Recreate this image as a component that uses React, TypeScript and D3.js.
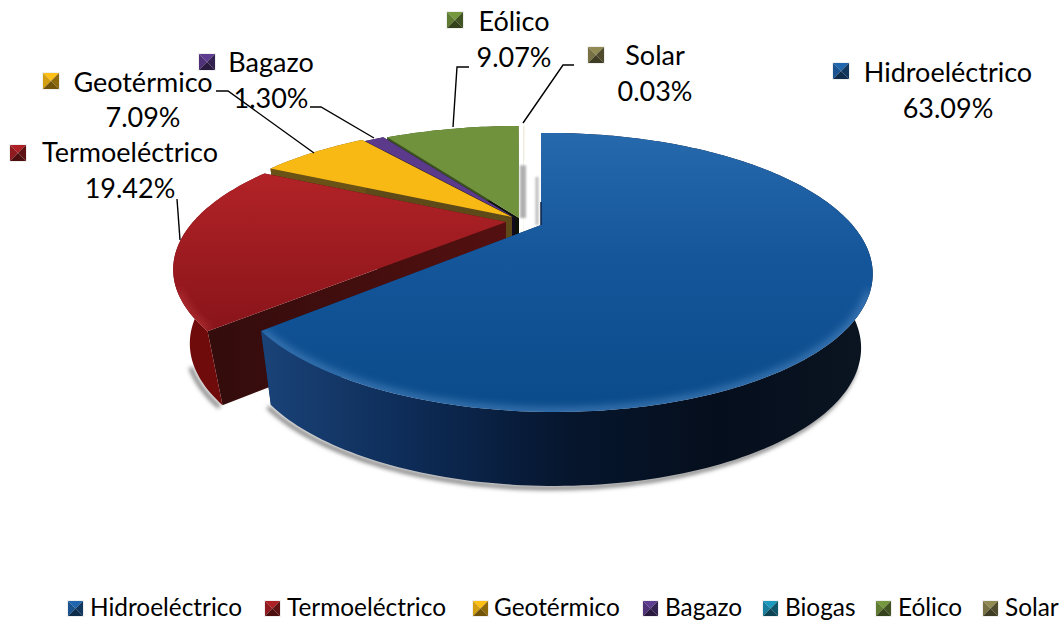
import React, { useMemo } from "react";
import * as d3 from "d3";

const categories = ["Hidroeléctrico", "Termoeléctrico", "Geotérmico", "Bagazo", "Biogas", "Eólico", "Solar"];
const shares = [63.09, 19.42, 7.09, 1.3, 0.0, 9.07, 0.03];
const shareLabels = ["63.09%", "19.42%", "7.09%", "1.30%", "", "9.07%", "0.03%"];
const colours = ["#1f62a8", "#a81f24", "#f9b914", "#5b3a8c", "#1b94b8", "#71923c", "#8d8550"];

// Layout of the chart (styling, not data)
const apexX = [541, 506, 512, 515, 516, 519, 524];
const apexY = [225, 222, 217, 218, 218, 218, 218];
const tilt = [-0.03, 0, 0, 0, 0, 0, 0];
const scaleA = [302, 313, 313, 313, 313, 313, 313];
const shrink = [0.965, 0.95, 0.965, 0.965, 0.965, 0.965, 0.965];
const wallColours = ["", "#6f0b0b", "#6a5216", "#2b1a4a", "#0d4c5f", "#3b5220", "#e8e6d0"];
const edgeColours = ["#0a2a55", "#3a0d0d", "#5e4a18", "#120a20", "#0d4c5f", "#0c1206", "#e8e6d0"];
const dataLabelLayout = [
  { sx: 833, sy: 63, cx: 948, y1: 82, y2: 118, leader: null },
  { sx: 10, sy: 145, cx: 130, y1: 162, y2: 198, leader: [[177, 199], [180, 240]] },
  { sx: 43, sy: 73, cx: 143, y1: 92, y2: 127, leader: [[216, 91], [228, 91], [314, 153]] },
  { sx: 199, sy: 54, cx: 271, y1: 72, y2: 108, leader: [[310, 107], [321, 107], [374, 138]] },
  null,
  { sx: 447, sy: 12, cx: 514, y1: 31, y2: 67, leader: [[469, 67], [457, 67], [453, 127]] },
  { sx: 588, sy: 47, cx: 655, y1: 65, y2: 101, leader: [[574, 65], [563, 65], [523, 123]] },
];
const legendSwatchX = [68, 265, 473, 643, 763, 876, 983];
const legendTextX = [90, 287, 494, 665, 785, 898, 1005];

const B = 123.3;
const P = 0.34;
const DEPTH = 74;
const FONT = "Lato, Carlito, 'Noto Sans', sans-serif";

type Pt = [number, number];

function Swatch({ x, y, s, c }: { x: number; y: number; s: number; c: string }) {
  const col = d3.color(c)!;
  const mx = x + s / 2, my = y + s / 2;
  const tri = (a: Pt, b: Pt) => `M${a}L${b}L${mx},${my}Z`;
  return (
    <g>
      <rect x={x - 1} y={y - 1} width={s + 2} height={s + 2} fill="#efefef" />
      <path d={tri([x, y], [x + s, y])} fill={col.brighter(0.1).toString()} />
      <path d={tri([x, y], [x, y + s])} fill={col.darker(0.45).toString()} />
      <path d={tri([x + s, y], [x + s, y + s])} fill={col.darker(1.6).toString()} />
      <path d={tri([x, y + s], [x + s, y + s])} fill={col.darker(2.2).toString()} />
    </g>
  );
}

export default function App() {
  const slices = useMemo(() => {
    const pie = d3.pie<number>().value((d) => d).sort(null);
    return pie(shares).map((a, i) => {
      const project = (t: number, r = 1): Pt => {
        const X = r * Math.sin(t), Y = r * Math.cos(t);
        const w = 1 + P * Y + tilt[i] * X;
        return [apexX[i] + (scaleA[i] * X) / w, apexY[i] - (B * Y) / w];
      };
      const lower = (p: Pt): Pt => [apexX[i] + (p[0] - apexX[i]) * shrink[i], p[1] + DEPTH];
      const steps = Math.max(2, Math.ceil((a.endAngle - a.startAngle) / 0.02));
      const arc = d3.range(steps + 1).map((k) => project(a.startAngle + ((a.endAngle - a.startAngle) * k) / steps));
      const apex: Pt = [apexX[i], apexY[i]];
      return { i, a, arc, apex, lower, project };
    });
  }, []);

  const line = d3.line<Pt>();
  // Painter's order: the far slices first, the near ones last.
  const order = [6, 5, 4, 3, 2, 1, 0].filter((i) => shares[i] > 0);

  const blue = slices[0];
  const red = slices[1];
  const frontOf = (s: typeof blue) => s.arc.filter((p) => p[1] > 290);
  const wholeCanvas = { filterUnits: "userSpaceOnUse" as const, x: 0, y: 0, width: 1063, height: 622 };

  return (
    <svg width={1063} height={622} style={{ position: "absolute", left: 0, top: 0, background: "#fff" }}>
      <defs>
        <filter id="blur4" {...wholeCanvas}><feGaussianBlur stdDeviation="4" /></filter>
        <filter id="blur2" {...wholeCanvas}><feGaussianBlur stdDeviation="2" /></filter>
        <filter id="blur1" {...wholeCanvas}><feGaussianBlur stdDeviation="1" /></filter>
        <linearGradient id="topBlue" gradientUnits="userSpaceOnUse" x1="0" x2="0" y1="133" y2="412">
          <stop offset="0" stopColor="#2769ad" />
          <stop offset="0.45" stopColor="#15569b" />
          <stop offset="1" stopColor="#0a4b8a" />
        </linearGradient>
        <linearGradient id="topRed" gradientUnits="userSpaceOnUse" x1="0" x2="0" y1="172" y2="330">
          <stop offset="0" stopColor="#b22327" />
          <stop offset="1" stopColor="#89141a" />
        </linearGradient>
        <linearGradient id="wallBlue" gradientUnits="userSpaceOnUse" x1="262" x2="870" y1="0" y2="0">
          <stop offset="0" stopColor="#1a4378" />
          <stop offset="0.25" stopColor="#0d2b56" />
          <stop offset="0.5" stopColor="#06162e" />
          <stop offset="0.75" stopColor="#050e1c" />
          <stop offset="1" stopColor="#0b1522" />
        </linearGradient>
        <linearGradient id="wallRedEdge" gradientUnits="userSpaceOnUse" x1="220" x2="503" y1="0" y2="0">
          <stop offset="0" stopColor="#340c0c" />
          <stop offset="1" stopColor="#541010" />
        </linearGradient>
        {order.map((i) => (
          <clipPath key={i} id={`face${i}`}>
            <path d={(line([slices[i].apex, ...slices[i].arc]) ?? "") + "Z"} />
          </clipPath>
        ))}
      </defs>

      {[blue, red].map((s, k) => (
        <path key={k} d={line(frontOf(s).map(s.lower)) ?? ""} fill="none" stroke="#777" strokeWidth={4} filter="url(#blur2)" transform="translate(-3,2)" />
      ))}

      {order.map((i) => {
        const s = slices[i];
        const lowArc = s.arc.map(s.lower);
        const first = s.arc[0], last = s.arc[s.arc.length - 1];
        const lowApex = s.lower(s.apex);
        const outer = [...s.arc, ...[...lowArc].reverse()];
        const wallFill = i === 0 ? "url(#wallBlue)" : wallColours[i];
        const edgeFill = i === 1 ? "url(#wallRedEdge)" : edgeColours[i];
        const topFill = i === 0 ? "url(#topBlue)" : i === 1 ? "url(#topRed)" : colours[i];
        const wallA = [s.apex, first, s.lower(first), lowApex];
        const wallB = [s.apex, last, s.lower(last), lowApex];
        return (
          <g key={i}>
            <path d={(line(wallA) ?? "") + "Z"} fill={edgeFill} />
            <path d={(line(wallB) ?? "") + "Z"} fill={edgeFill} />
            <path d={(line(outer) ?? "") + "Z"} fill={wallFill} />
            {i === 6 ? (
              <path d={line(s.arc.concat([s.project(s.a.startAngle, 0.55)])) ?? ""} fill="none" stroke="#ecebd6" strokeWidth={1} />
            ) : (
              <path d={(line([s.apex, ...s.arc]) ?? "") + "Z"} fill={topFill} />
            )}
            {i <= 1 && (
              <g clipPath={`url(#face${i})`}>
                <path
                  d={line(frontOf(s)) ?? ""}
                  fill="none"
                  stroke={i === 0 ? "#5c93cc" : "#c03c40"}
                  strokeOpacity={0.7}
                  strokeWidth={7}
                  filter="url(#blur4)"
                />
              </g>
            )}
          </g>
        );
      })}

      <path d={line([slices[5].project(0, 0.5), slices[5].project(0, 0)].map((p) => [p[0] + 4, p[1]] as Pt)) ?? ""} stroke="#b0b0b0" strokeWidth={6} fill="none" filter="url(#blur1)" />
      <path d={line([blue.project(0, 0.45), blue.project(0, 0)].map((p) => [p[0] - 4, p[1]] as Pt)) ?? ""} stroke="#bdbdbd" strokeWidth={3} fill="none" filter="url(#blur1)" />
      <path d={line([blue.project(0, 0.2), blue.project(0, 0)].map((p) => [p[0], p[1]] as Pt)) ?? ""} stroke="#0a2040" strokeWidth={1.5} fill="none" />

      {dataLabelLayout.map((l, i) =>
        l ? (
          <g key={i}>
            {l.leader && <path d={line(l.leader as Pt[]) ?? ""} fill="none" stroke="#000" strokeWidth={1.4} />}
            <Swatch x={l.sx} y={l.sy} s={16} c={colours[i]} />
            <g fontFamily={FONT} fontSize={27} fill="#000" textAnchor="middle">
              <text x={l.cx} y={l.y1}>{categories[i]}</text>
              <text x={l.cx} y={l.y2}>{shareLabels[i]}</text>
            </g>
          </g>
        ) : null
      )}

      {categories.map((c, i) => (
        <g key={c}>
          <Swatch x={legendSwatchX[i]} y={601} s={15} c={colours[i]} />
          <text x={legendTextX[i]} y={616} fontFamily={FONT} fontSize={24.4} fill="#000">{c}</text>
        </g>
      ))}
    </svg>
  );
}
